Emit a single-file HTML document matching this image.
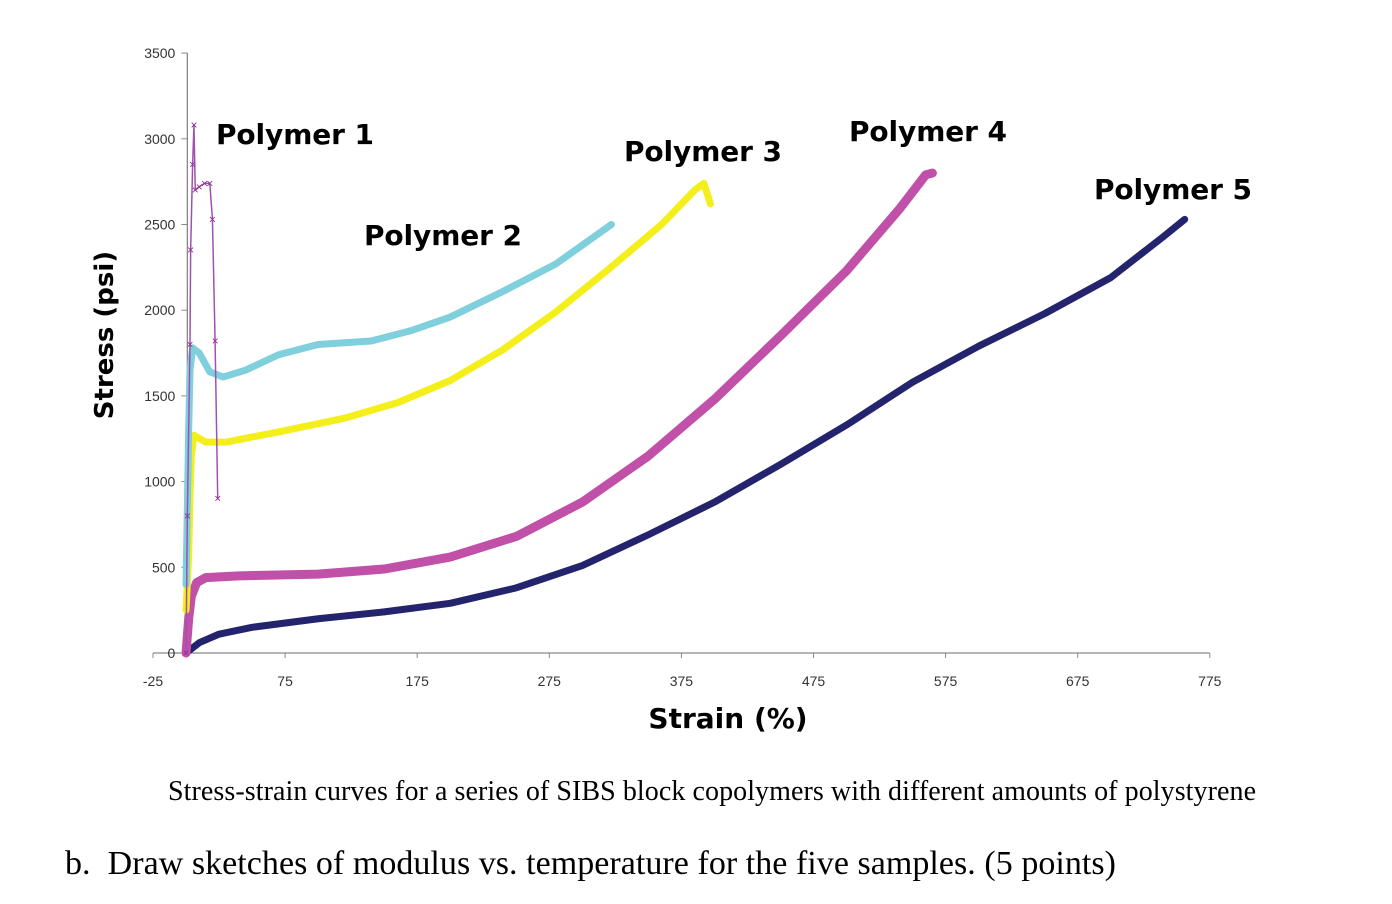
<!DOCTYPE html><html><head><meta charset="utf-8"><style>
body{margin:0;background:#fff;width:1392px;height:904px;overflow:hidden}
svg{display:block}
</style></head><body>
<svg width="1392" height="904" id="c">
<text x="712" y="800" text-anchor="middle" font-family="Liberation Serif,serif" font-size="28" textLength="1088">Stress-strain curves for a series of SIBS block copolymers with different amounts of polystyrene</text>
<text x="65" y="874" font-family="Liberation Serif,serif" font-size="34" textLength="1051">b.&#160;&#160;Draw sketches of modulus vs. temperature for the five samples. (5 points)</text>
<text x="728" y="728" text-anchor="middle" font-family="DejaVu Sans,sans-serif" font-weight="bold" font-size="28">Strain (%)</text>
<text transform="translate(113,335) rotate(-90)" text-anchor="middle" font-family="DejaVu Sans,sans-serif" font-weight="bold" font-size="26">Stress (psi)</text>
</svg>
<script>
const xTicks=[-25,75,175,275,375,475,575,675,775];
const yTicks=[0,500,1000,1500,2000,2500,3000,3500];
const p1x=[0,1,3,3.5,5,6,7,10,14,18,20,22,24];
const p1y=[0,800,1800,2350,2850,3080,2700,2720,2740,2740,2530,1820,900];
const p2x=[0,2,3,5,10,18,28,45,70,100,140,170,200,240,280,322];
const p2y=[400,1300,1650,1780,1750,1640,1610,1650,1740,1800,1820,1880,1960,2110,2270,2500];
const p3x=[0,2,3,4,6,15,30,70,120,160,200,240,280,320,360,385,392,397];
const p3y=[250,570,920,1150,1270,1230,1230,1290,1370,1460,1590,1770,1990,2240,2500,2700,2740,2620];
const p4x=[0,2,4,8,15,40,100,150,200,250,300,350,400,450,500,540,560,565];
const p4y=[0,200,330,410,440,450,460,490,560,680,880,1150,1480,1850,2230,2590,2790,2800];
const p5x=[0,10,25,50,100,150,200,250,300,350,400,450,500,550,600,650,700,740,756];
const p5y=[0,60,110,150,200,240,290,380,510,690,880,1100,1330,1580,1790,1980,2190,2430,2530];
const X=v=>153+(v+25)*1.321, Y=v=>653-v*0.1714;
const svg=document.getElementById('c'),NS='http://www.w3.org/2000/svg';
function mk(t,a){const e=document.createElementNS(NS,t);for(const k in a)e.setAttribute(k,a[k]);svg.appendChild(e);return e;}
let ax=mk('line',{x1:X(-25),x2:X(775),y1:Y(0),y2:Y(0),stroke:'#888','stroke-width':1.3});


let ay=mk('line',{x1:X(1),x2:X(1),y1:Y(3500),y2:Y(0),stroke:'#888','stroke-width':1.3});


xTicks.forEach(v=>{mk('line',{x1:X(v),x2:X(v),y1:Y(0),y2:Y(0)+5,stroke:'#888'});
const t=mk('text',{x:X(v),y:686,'text-anchor':'middle','font-family':'Liberation Sans,sans-serif','font-size':14,fill:'#333'});t.textContent=v;

});
yTicks.forEach(v=>{mk('line',{x1:X(1)-6,x2:X(1),y1:Y(v),y2:Y(v),stroke:'#888'});
const t=mk('text',{x:X(1)-12,y:Y(v)+5,'text-anchor':'end','font-family':'Liberation Sans,sans-serif','font-size':14,fill:'#333'});t.textContent=v;

});
function line(xs,ys,col,w,name){const p=mk('polyline',{points:xs.map((x,i)=>X(x)+','+Y(ys[i])).join(' '),fill:'none',stroke:col,'stroke-width':w,'stroke-linejoin':'round','stroke-linecap':'round'});

}
line(p5x,p5y,'#23236e',7,'polymer-5-curve');
line(p4x,p4y,'#c050a8',9,'polymer-4-curve');
line(p3x,p3y,'#f4ee1a',7,'polymer-3-curve');
line(p2x,p2y,'#7fd0dc',7,'polymer-2-curve');
line(p1x,p1y,'#a050b0',1.5,'polymer-1-curve');
p1x.forEach((x,i)=>{const m=mk('text',{x:X(x),y:Y(p1y[i])+4,'text-anchor':'middle','font-family':'Liberation Sans,sans-serif','font-size':12,fill:'#903090'});m.textContent='×';

});
[['Polymer 1',216,144],['Polymer 2',364,245],['Polymer 3',624,161],['Polymer 4',849,141],['Polymer 5',1094,199]].forEach(([s,x,y],i)=>{const t=mk('text',{x:x,y:y,'font-family':'DejaVu Sans,sans-serif','font-weight':'bold','font-size':28,textLength:158});t.textContent=s;

});
</script>
</body></html>
